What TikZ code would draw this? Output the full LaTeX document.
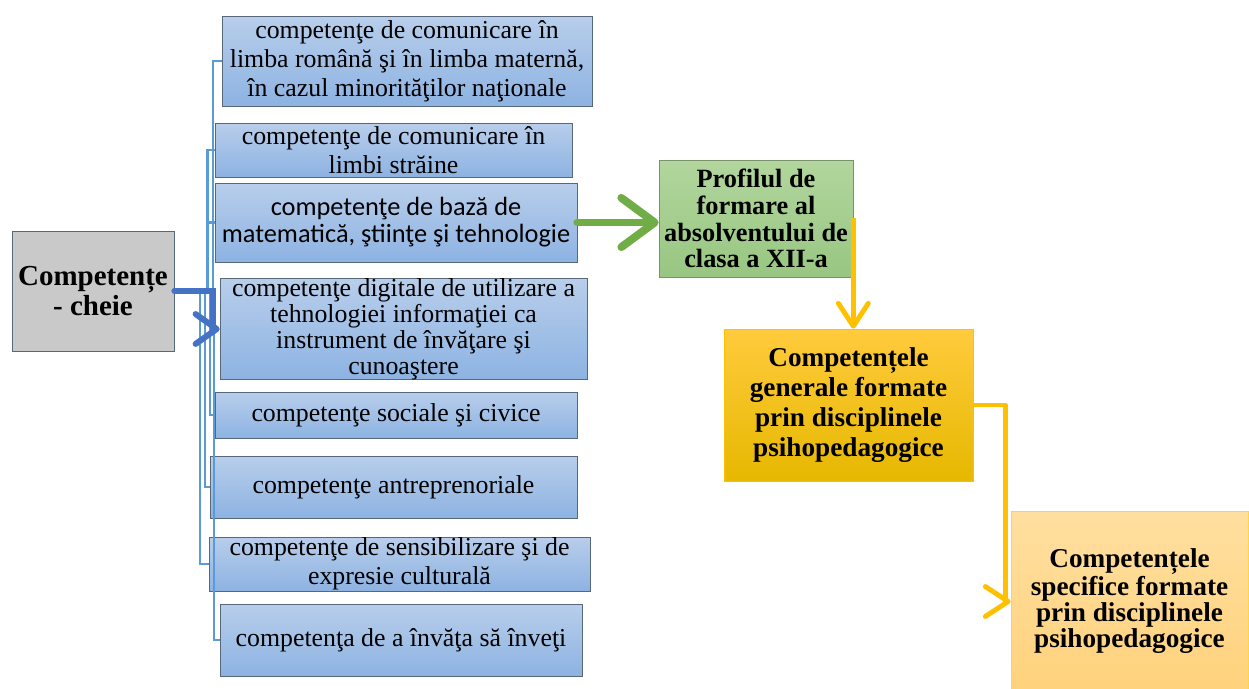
\documentclass[tikz,border=0pt]{standalone}
\usepackage{fontspec}
\setmainfont{Liberation Serif}
\newfontfamily\calibri{Carlito}
\usetikzlibrary{arrows.meta}
\definecolor{blueTop}{HTML}{B8CEEB}
\definecolor{blueBot}{HTML}{8DB3E2}
\definecolor{boxline}{HTML}{56687A}
\definecolor{spine}{HTML}{5B9BD5}
\definecolor{keyblue}{HTML}{4472C4}
\definecolor{grayfill}{HTML}{C9C9C9}
\definecolor{greenTop}{HTML}{B2D69D}
\definecolor{greenBot}{HTML}{98C682}
\definecolor{greenline}{HTML}{78936A}
\definecolor{arrowgreen}{HTML}{70AD47}
\definecolor{gold}{HTML}{FFC000}
\definecolor{goldTop}{HTML}{FFCB3D}
\definecolor{goldBot}{HTML}{E6B800}
\definecolor{paleTop}{HTML}{FFDFA0}
\definecolor{paleBot}{HTML}{FFD27C}
\tikzset{
  kbox/.style={draw=boxline, top color=blueTop, bottom color=blueBot, inner sep=0pt,
    align=center, font=\fontsize{14.7}{16.5}\selectfont},
  spine/.style={draw=spine, line width=1.3pt},
  keyarrow/.style={draw=keyblue, line width=3.4pt, line cap=round,
    -{Straight Barb[length=12pt,width=17pt,round]}},
  greenarrow/.style={draw=arrowgreen, line width=4.5pt, line cap=round,
    -{Straight Barb[length=19pt,width=28pt,round]}},
  goldarrow/.style={draw=gold, line width=2.8pt, line join=round,
    -{Straight Barb[length=13pt,width=17pt,round]}}
}
\begin{document}
\begin{tikzpicture}[x=0.02cm,y=-0.02cm]
\useasboundingbox (0,0) rectangle (1249,689);
\node[draw=boxline, fill=grayfill, inner sep=0pt, align=center, minimum width=3.24cm, minimum height=2.4cm,
  font=\bfseries\fontsize{16.5}{17}\selectfont] (cheie) at (93,291) {Competențe\\ - cheie};
\node[kbox, minimum width=7.4cm, minimum height=1.8cm] (c1) at (407,61)
  {competenţe de comunicare în\\ limba română şi în limba maternă,\\ în cazul minorităţilor naţionale};
\node[kbox, minimum width=7.14cm, minimum height=1.08cm] (c2) at (393.5,150)
  {competenţe de comunicare în\\ limbi străine};
\node[kbox, minimum width=7.24cm, minimum height=1.58cm, font=\calibri\fontsize{15}{15.5}\selectfont] (c3) at (396,222.5)
  {competenţe de bază de\\ matematică, ştiinţe şi tehnologie};
\node[kbox, minimum width=7.34cm, minimum height=1.96cm, font=\fontsize{14.7}{14.8}\selectfont] (c4) at (403.5,329)
  {competenţe digitale de utilizare a\\ tehnologiei informaţiei ca\\ instrument de învăţare şi\\ cunoaştere};
\node[kbox, minimum width=7.24cm, minimum height=0.92cm] (c5) at (396,415) {competenţe sociale şi civice};
\node[kbox, minimum width=7.34cm, minimum height=1.24cm] (c6) at (393.5,487) {competenţe antreprenoriale};
\node[kbox, minimum width=7.62cm, minimum height=1.08cm] (c7) at (399.5,564)
  {competenţe de sensibilizare şi de\\ expresie culturală};
\node[kbox, minimum width=7.24cm, minimum height=1.44cm] (c8) at (401,640) {competenţa de a învăţa să înveţi};
\node[draw=greenline, top color=greenTop, bottom color=greenBot, inner sep=0pt, align=center,
  minimum width=3.88cm, minimum height=2.34cm, font=\bfseries\fontsize{15}{15.3}\selectfont] (profil) at (756,218.5)
  {Profilul de\\ formare al\\ absolventului de\\ clasa a XII-a};
\node[draw=gold, top color=goldTop, bottom color=goldBot, inner sep=0pt, align=center,
  minimum width=4.98cm, minimum height=3.04cm, font=\bfseries\fontsize{15.5}{17}\selectfont] (generale) at (848.5,405)
  {Competențele\\ generale formate\\ prin disciplinele\\ psihopedagogice};
\node[draw=gold!70, top color=paleTop, bottom color=paleBot, inner sep=0pt, align=center,
  minimum width=4.74cm, minimum height=3.62cm, font=\bfseries\fontsize{15.5}{14.8}\selectfont] (specifice) at (1129.5,601.5)
  {Competențele\\ specifice formate\\ prin disciplinele\\ psihopedagogice};
\coordinate (hub) at (200,291);
\foreach \b/\s in {c1/13,c2/7.5,c3/8,c5/10,c6/5,c7/0,c8/14}
  \draw[spine] (hub) ++(\s,0) |- (\b.west);
\draw[keyarrow] (cheie.east) -- ++(39,0) |- (c4.west);
\draw[greenarrow] (c3.east) -- (c3.east -| profil.west);
\draw[goldarrow] (profil.east) -- (profil.east |- generale.north);
\draw[goldarrow] (generale.east) -- ++(32,0) |- (specifice.west);
\end{tikzpicture}
\end{document}
